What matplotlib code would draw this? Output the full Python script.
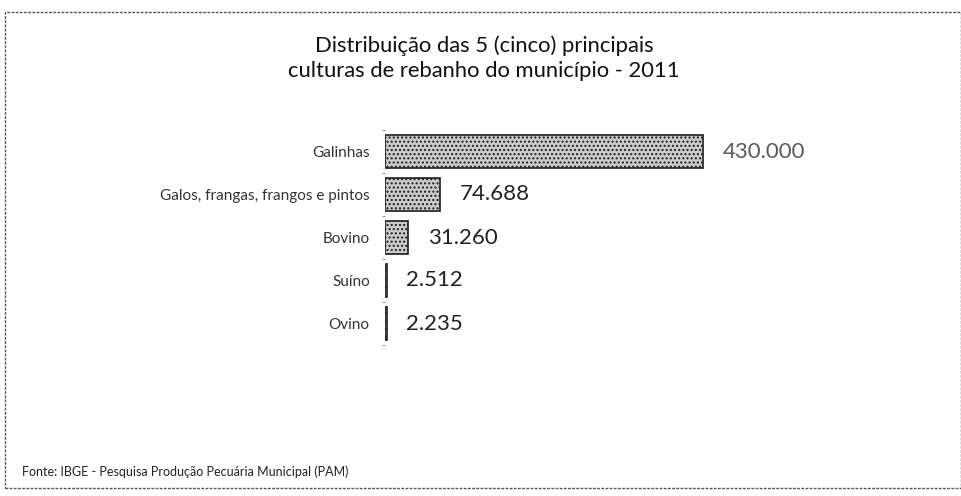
import matplotlib
matplotlib.use("Agg")
import matplotlib.pyplot as plt
from matplotlib.patches import Rectangle
from matplotlib.ticker import FixedLocator

categories = ["Galinhas", "Galos, frangas, frangos e pintos", "Bovino", "Suíno", "Ovino"]
values = [430000, 74688, 31260, 2512, 2235]
value_labels = ["430.000", "74.688", "31.260", "2.512", "2.235"]
title = "Distribuição das 5 (cinco) principais\nculturas de rebanho do município - 2011"
source = "Fonte: IBGE - Pesquisa Produção Pecuária Municipal (PAM)"

plt.rcParams['font.family'] = ['Lato', 'DejaVu Sans']

W, H = 961, 496
fig = plt.figure(figsize=(W / 100, H / 100), dpi=100)
fig.patch.set_facecolor("white")

# frame of the scanned chart area
fig.add_artist(Rectangle((5 / W, 1 - 488 / H), (W - 5) / W, (488 - 12) / H,
                         transform=fig.transFigure, fill=False,
                         edgecolor="#555555", linewidth=1.0, linestyle=(0, (2, 1))))

left, right = 385 / W, 800 / W
top, bottom = 1 - 130 / H, 1 - 345 / H
ax = fig.add_axes([left, bottom, right - left, top - bottom])

y = list(range(len(categories)))
ax.barh(y, values, height=0.78, color="#cccccc", edgecolor="#1e1e1e",
        hatch="....", linewidth=1.2)
ax.set_xlim(0, 430000 * 415 / 318)
ax.set_ylim(len(categories) - 0.5, -0.5)
ax.set_xticks([])
ax.set_yticks(y)
ax.set_yticklabels(categories, fontsize=11, color="#333333")
ax.yaxis.set_minor_locator(FixedLocator([i + 0.5 for i in range(-1, len(categories))]))
ax.tick_params(axis="y", which="major", length=0, pad=11)
ax.tick_params(axis="y", which="minor", length=2, color="#999999", width=0.8)
for s in ax.spines.values():
    s.set_visible(False)

for i, (v, lab) in enumerate(zip(values, value_labels)):
    ax.annotate(lab, (v, i), xytext=(14, 0), textcoords="offset points",
                va="center", ha="left", fontsize=16,
                color="#5a5a5a" if i == 0 else "#222222")

fig.text(484 / W, 1 - 58 / H, title, ha="center", va="center",
         fontsize=15.8, color="#111111", linespacing=1.3)
fig.text(22 / W, 1 - 472 / H, source, ha="left", va="center",
         fontsize=9, color="#222222")

fig.savefig("out.png", dpi=100)
